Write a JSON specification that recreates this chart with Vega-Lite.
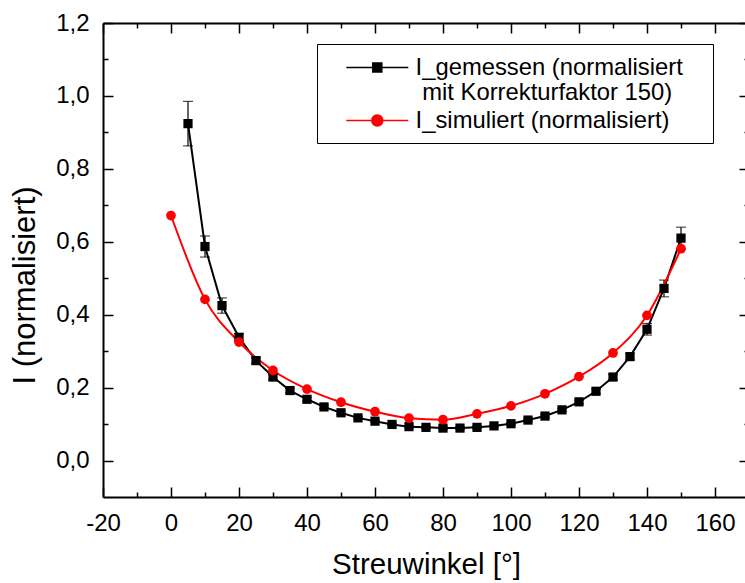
{
  "$schema": "https://vega.github.io/schema/vega-lite/v6.json",
  "width": 646,
  "height": 474,
  "autosize": {"type": "none"},
  "padding": {"left": 103, "top": 23, "right": 0, "bottom": 86},
  "config": {
    "view": {"stroke": null},
    "font": "Liberation Sans",
    "axis": {
      "domainColor": "black",
      "domainWidth": 2,
      "tickColor": "black",
      "tickWidth": 1.5,
      "labelColor": "black",
      "titleColor": "black",
      "labelFont": "Liberation Sans",
      "titleFont": "Liberation Sans",
      "labelFontSize": 24,
      "titleFontSize": 29.5,
      "titleFontWeight": "normal",
      "grid": false,
      "labelFlush": false,
      "labelOverlap": false
    }
  },
  "datasets": {
    "all": [
      {"series": "I_gemessen", "angle": 5, "I": 0.924, "lo": 0.863, "hi": 0.985},
      {"series": "I_gemessen", "angle": 10, "I": 0.587, "lo": 0.558, "hi": 0.616},
      {"series": "I_gemessen", "angle": 15, "I": 0.425, "lo": 0.404, "hi": 0.446},
      {"series": "I_gemessen", "angle": 20, "I": 0.338, "lo": 0.328, "hi": 0.348},
      {"series": "I_gemessen", "angle": 25, "I": 0.274, "lo": 0.266, "hi": 0.282},
      {"series": "I_gemessen", "angle": 30, "I": 0.229, "lo": 0.222, "hi": 0.236},
      {"series": "I_gemessen", "angle": 35, "I": 0.192, "lo": 0.186, "hi": 0.198},
      {"series": "I_gemessen", "angle": 40, "I": 0.168, "lo": 0.163, "hi": 0.173},
      {"series": "I_gemessen", "angle": 45, "I": 0.147, "lo": 0.143, "hi": 0.151},
      {"series": "I_gemessen", "angle": 50, "I": 0.131, "lo": 0.127, "hi": 0.135},
      {"series": "I_gemessen", "angle": 55, "I": 0.117, "lo": 0.114, "hi": 0.120},
      {"series": "I_gemessen", "angle": 60, "I": 0.108, "lo": 0.105, "hi": 0.111},
      {"series": "I_gemessen", "angle": 65, "I": 0.099, "lo": 0.096, "hi": 0.102},
      {"series": "I_gemessen", "angle": 70, "I": 0.093, "lo": 0.090, "hi": 0.096},
      {"series": "I_gemessen", "angle": 75, "I": 0.091, "lo": 0.088, "hi": 0.094},
      {"series": "I_gemessen", "angle": 80, "I": 0.089, "lo": 0.086, "hi": 0.092},
      {"series": "I_gemessen", "angle": 85, "I": 0.089, "lo": 0.086, "hi": 0.092},
      {"series": "I_gemessen", "angle": 90, "I": 0.091, "lo": 0.088, "hi": 0.094},
      {"series": "I_gemessen", "angle": 95, "I": 0.095, "lo": 0.092, "hi": 0.098},
      {"series": "I_gemessen", "angle": 100, "I": 0.101, "lo": 0.098, "hi": 0.104},
      {"series": "I_gemessen", "angle": 105, "I": 0.111, "lo": 0.108, "hi": 0.114},
      {"series": "I_gemessen", "angle": 110, "I": 0.122, "lo": 0.118, "hi": 0.126},
      {"series": "I_gemessen", "angle": 115, "I": 0.139, "lo": 0.135, "hi": 0.143},
      {"series": "I_gemessen", "angle": 120, "I": 0.161, "lo": 0.156, "hi": 0.166},
      {"series": "I_gemessen", "angle": 125, "I": 0.190, "lo": 0.184, "hi": 0.196},
      {"series": "I_gemessen", "angle": 130, "I": 0.229, "lo": 0.222, "hi": 0.236},
      {"series": "I_gemessen", "angle": 135, "I": 0.285, "lo": 0.276, "hi": 0.294},
      {"series": "I_gemessen", "angle": 140, "I": 0.360, "lo": 0.344, "hi": 0.376},
      {"series": "I_gemessen", "angle": 145, "I": 0.472, "lo": 0.449, "hi": 0.495},
      {"series": "I_gemessen", "angle": 150, "I": 0.610, "lo": 0.580, "hi": 0.640},
      {"series": "I_simuliert", "angle": 0, "I": 0.672},
      {"series": "I_simuliert", "angle": 10, "I": 0.442},
      {"series": "I_simuliert", "angle": 20, "I": 0.325},
      {"series": "I_simuliert", "angle": 30, "I": 0.247},
      {"series": "I_simuliert", "angle": 40, "I": 0.196},
      {"series": "I_simuliert", "angle": 50, "I": 0.160},
      {"series": "I_simuliert", "angle": 60, "I": 0.134},
      {"series": "I_simuliert", "angle": 70, "I": 0.116},
      {"series": "I_simuliert", "angle": 80, "I": 0.112},
      {"series": "I_simuliert", "angle": 90, "I": 0.128},
      {"series": "I_simuliert", "angle": 100, "I": 0.150},
      {"series": "I_simuliert", "angle": 110, "I": 0.183},
      {"series": "I_simuliert", "angle": 120, "I": 0.230},
      {"series": "I_simuliert", "angle": 130, "I": 0.295},
      {"series": "I_simuliert", "angle": 140, "I": 0.398},
      {"series": "I_simuliert", "angle": 150, "I": 0.581}
    ]
  },
  "data": {"name": "all"},
  "layer": [
    {
      "transform": [{"filter": "datum.series === 'I_gemessen'"}],
      "mark": {"type": "rule", "color": "black", "strokeWidth": 1.2},
      "encoding": {
        "x": {"field": "angle", "type": "quantitative", "scale": {"domain": [-20, 170], "nice": false, "zero": false},
          "axis": {"orient": "bottom", "values": [-20, 0, 20, 40, 60, 80, 100, 120, 140, 160], "tickSize": -10, "labelPadding": 24,
            "labelExpr": "datum.value + ''",
            "title": "Streuwinkel [°]", "titleBaseline": "alphabetic", "titleY": 76}},
        "y": {"field": "lo", "type": "quantitative", "scale": {"domain": [-0.1, 1.2], "nice": false, "zero": false},
          "axis": {"orient": "left", "values": [0, 0.2, 0.4, 0.6, 0.8, 1.0, 1.2], "tickSize": -10, "labelPadding": 24,
            "labelExpr": "replace(format(datum.value, '.1f'), '.', ',')",
            "title": "I (normalisiert)", "titleFontSize": 31, "titleBaseline": "alphabetic", "titleAlign": "left", "titleAngle": 270, "titleX": -69, "titleY": 361}},
        "y2": {"field": "hi"}
      }
    },
    {
      "transform": [{"filter": "datum.series === 'I_gemessen'"}],
      "mark": {"type": "tick", "color": "black", "size": 10, "thickness": 1.2, "orient": "horizontal"},
      "encoding": {
        "x": {"field": "angle", "type": "quantitative", "scale": {"domain": [-20, 170], "nice": false, "zero": false},
          "axis": {"orient": "bottom", "values": [-10, 10, 30, 50, 70, 90, 110, 130, 150], "tickSize": -5, "labels": false, "domain": false, "title": null}},
        "y": {"field": "lo", "type": "quantitative", "scale": {"domain": [-0.1, 1.2], "nice": false, "zero": false},
          "axis": {"orient": "left", "values": [0.1, 0.3, 0.5, 0.7, 0.9, 1.1], "tickSize": -5, "labels": false, "domain": false, "title": null}}
      }
    },
    {
      "transform": [{"filter": "datum.series === 'I_gemessen'"}],
      "mark": {"type": "tick", "color": "black", "size": 10, "thickness": 1.2, "orient": "horizontal"},
      "encoding": {
        "x": {"field": "angle", "type": "quantitative", "scale": {"domain": [-20, 170], "nice": false, "zero": false},
          "axis": {"orient": "top", "values": [-20, 0, 20, 40, 60, 80, 100, 120, 140, 160], "tickSize": -10, "labels": false, "title": null}},
        "y": {"field": "hi", "type": "quantitative", "scale": {"domain": [-0.1, 1.2], "nice": false, "zero": false},
          "axis": {"orient": "right", "values": [0, 0.2, 0.4, 0.6, 0.8, 1.0, 1.2], "tickSize": -10, "labels": false, "title": null}}
      }
    },
    {
      "transform": [{"filter": "datum.series === 'I_gemessen'"}],
      "mark": {"type": "line", "color": "black", "strokeWidth": 2, "interpolate": "linear"},
      "encoding": {
        "x": {"field": "angle", "type": "quantitative", "scale": {"domain": [-20, 170], "nice": false, "zero": false},
          "axis": {"orient": "top", "values": [-10, 10, 30, 50, 70, 90, 110, 130, 150], "tickSize": -5, "labels": false, "domain": false, "title": null}},
        "y": {"field": "I", "type": "quantitative", "scale": {"domain": [-0.1, 1.2], "nice": false, "zero": false},
          "axis": {"orient": "right", "values": [0.1, 0.3, 0.5, 0.7, 0.9, 1.1], "tickSize": -5, "labels": false, "domain": false, "title": null}}
      }
    },
    {
      "transform": [{"filter": "datum.series === 'I_simuliert'"}],
      "mark": {"type": "line", "color": "red", "strokeWidth": 2, "interpolate": "monotone"},
      "encoding": {
        "x": {"field": "angle", "type": "quantitative", "scale": {"domain": [-20, 170], "nice": false, "zero": false}, "axis": null},
        "y": {"field": "I", "type": "quantitative", "scale": {"domain": [-0.1, 1.2], "nice": false, "zero": false}, "axis": null}
      }
    },
    {
      "transform": [{"filter": "datum.series === 'I_gemessen'"}],
      "mark": {"type": "point", "shape": "square", "filled": true, "opacity": 1, "strokeWidth": 0, "size": 85},
      "encoding": {
        "x": {"field": "angle", "type": "quantitative", "scale": {"domain": [-20, 170], "nice": false, "zero": false}, "axis": null},
        "y": {"field": "I", "type": "quantitative", "scale": {"domain": [-0.1, 1.2], "nice": false, "zero": false}, "axis": null},
        "color": {"field": "series", "type": "nominal",
          "scale": {"domain": ["I_gemessen", "I_simuliert"], "range": ["black", "red"]},
          "legend": {
            "title": null,
            "orient": "none",
            "legendX": 214,
            "legendY": 21,
            "direction": "vertical",
            "strokeColor": "black",
            "fillColor": "white",
            "padding": 10,
            "symbolOffset": 36.8,
            "symbolSize": 625,
            "symbolStrokeWidth": 1.5,
            "symbolType": {"expr": "datum.value === 'I_gemessen' ? 'M-2.48,0H2.48M-0.36,-0.36H0.36V0.36H-0.36Z' : 'M-2.48,0H2.48M0.44,0A0.44,0.44,0,1,1,-0.44,0A0.44,0.44,0,1,1,0.44,0Z'"},
            "symbolStrokeColor": {"expr": "datum.value === 'I_gemessen' ? 'black' : 'red'"},
            "symbolFillColor": {"expr": "datum.value === 'I_gemessen' ? 'black' : 'red'"},
            "labelFont": "Liberation Sans",
            "labelFontSize": 23.8,
            "labelColor": "black",
            "labelLimit": 500,
            "labelOffset": 24.8,
            "rowPadding": 1,
            "labelExpr": "datum.value === 'I_gemessen' ? ['I_gemessen (normalisiert\u00a0\u00a0\u00a0\u200b', '\u200b\u00a0mit Korrekturfaktor 150)'] : 'I_simuliert (normalisiert)'",
            "encode": {
              "legend": {"strokeWidth": {"value": 2}},
              "symbols": {
                "strokeWidth": {"value": 1.5},
                "opacity": {"value": 1}
              },
              "labels": {"lineHeight": {"value": 30}}
            }
          }}
      }
    },
    {
      "transform": [{"filter": "datum.series === 'I_simuliert'"}],
      "mark": {"type": "point", "shape": "circle", "filled": true, "opacity": 1, "strokeWidth": 0, "size": 95},
      "encoding": {
        "x": {"field": "angle", "type": "quantitative", "scale": {"domain": [-20, 170], "nice": false, "zero": false}, "axis": null},
        "y": {"field": "I", "type": "quantitative", "scale": {"domain": [-0.1, 1.2], "nice": false, "zero": false}, "axis": null},
        "color": {"field": "series", "type": "nominal", "scale": {"domain": ["I_gemessen", "I_simuliert"], "range": ["black", "red"]}}
      }
    }
  ],
  "resolve": {"axis": {"x": "independent", "y": "independent"}}
}
